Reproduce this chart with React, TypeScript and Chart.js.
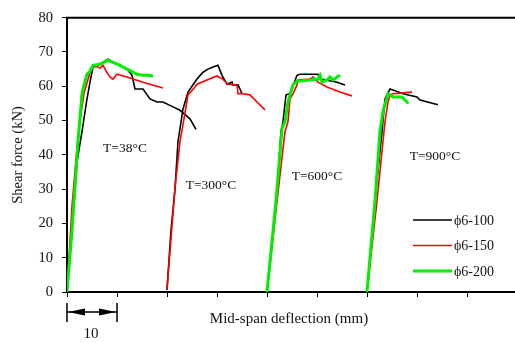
import React, { useEffect, useRef } from "react";
import { Chart, registerables } from "chart.js";

Chart.register(...registerables);

// Curves: [deflection (mm), shear force (kN)], each test group shifted by 20 mm on the axis
const s100_38 = [[0,0],[1,18],[2,38],[3,46.8],[4,56.3],[4.6,61.2],[5.2,65.6],[7.2,67],[8.2,67.9],[10,66.4],[12,65],[13,63.2],[13.6,59.2],[15.2,59.2],[16.6,56.3],[18,55.4],[19.2,55.4],[21.2,54],[22.6,53],[24.6,50.5],[25.8,47.4]];
const s150_38 = [[0,0],[0.4,10],[1,25],[2,42],[2.6,50],[3.4,58],[4.6,64],[5.2,65.6],[6,65.8],[6.6,65.3],[7.2,66.1],[8,64],[8.6,62.7],[9.2,62.1],[10,63.5],[12,62.7],[15.2,61.2],[19.2,59.5]];
const s200_38 = [[0,0],[1,18],[2.2,43.9],[3,57.8],[3.2,59.2],[4,63.5],[4.6,64.4],[5.2,66.1],[6.6,66.4],[8.2,67.6],[9.2,67],[10.6,66.1],[12,65],[14,63.5],[15.2,63.2],[16.2,63.2],[17.2,63]];

const s100_300 = [[20,0.6],[20.8,18],[21.6,30],[22.2,43.9],[23.2,53.4],[24.2,58.3],[26,62.1],[27.2,64.1],[28.2,65],[29.2,65.6],[30.2,66.1],[31,63.2],[32,60.6],[33,61.2],[33.2,60.4],[34.2,60.4],[34.6,59.2],[35,57.8]];
const s150_300 = [[20,0.9],[21.6,30.3],[22.6,43.9],[23.2,48.8],[24.2,57.5],[25.6,59.8],[26,60.6],[28,61.8],[30,63],[31.2,62],[32.2,60.6],[34,60.4],[34.2,57.8],[35.2,57.8],[36.6,57.5],[38,55.4],[39.6,53.1]];

const s100_600 = [[40,0],[42,28.6],[42.8,46.8],[43.2,49.7],[43.8,57.5],[44.6,57.8],[46,63.2],[46.6,63.5],[50.2,63.5],[50.6,62.1],[52,61.8],[54,61.2],[55.6,60.4]];
const s150_600 = [[40,0],[42.2,29],[43.6,46.8],[44.2,49.7],[44.6,56.3],[45.2,57.8],[46,60.4],[46.2,61.8],[48.6,62.1],[49.2,62.7],[50.2,61.2],[52,59.8],[54.6,58.3],[57,57.2]];
const s200_600 = [[40,0],[41.8,26.6],[43,47.7],[43.6,49.7],[44.2,55.4],[45.2,60.4],[46,61.5],[48.6,61.8],[50.2,62.1],[50.6,63.2],[51,61.2],[52,61.8],[52.6,62.7],[53.2,61.8],[54,62.7],[54.6,63.2]];

const s100_900 = [[60,0],[61.6,26.6],[63,46.8],[63.6,56.3],[64.6,59.2],[65.2,58.9],[67.2,57.8],[70,56.9],[70.6,56],[74.2,54.6]];
const s150_900 = [[60,0],[62,26.6],[63.6,49.7],[64.2,55.4],[64.6,57.5],[65.2,57.8],[69,58.3]];
const s200_900 = [[60,0],[61.6,26.6],[62.6,46.8],[63.2,52.6],[64.2,57.8],[65.2,56.9],[67,56.9],[68,55.4],[68.2,54.9]];

const seriesNames = ["ϕ6-100", "ϕ6-150", "ϕ6-200"];
const seriesColors = ["#000000", "#ff0000", "#00ee00"];
const seriesWidths = [1.6, 1.6, 3];
const yTicks = [0, 10, 20, 30, 40, 50, 60, 70, 80];
const tempLabels = ["T=38°C", "T=300°C", "T=600°C", "T=900°C"];
const tempLabelPos = [[11.6, 42], [28.8, 31], [50, 33.6], [73.6, 39.4]];
const scaleBarMm = 10;

const FONT = '"Liberation Serif", "Times New Roman", serif';

function join(groups: number[][][]) {
  const out: { x: number; y: number | null }[] = [];
  groups.forEach((g, i) => {
    if (i > 0) out.push({ x: g[0][0], y: null });
    g.forEach(([x, y]) => out.push({ x, y }));
  });
  return out;
}

const extras = {
  id: "extras",
  afterDraw(chart: any) {
    const { ctx, chartArea } = chart;
    const xs = chart.scales.x;
    const ys = chart.scales.y;
    ctx.save();
    // top border
    ctx.strokeStyle = "#000";
    ctx.lineWidth = 2;
    ctx.beginPath();
    ctx.moveTo(chartArea.left - 1, chartArea.top);
    ctx.lineTo(chartArea.right, chartArea.top);
    ctx.stroke();

    ctx.fillStyle = "#111";
    // axis titles
    ctx.font = `15px ${FONT}`;
    ctx.textAlign = "center";
    ctx.textBaseline = "middle";
    ctx.fillText("Mid-span deflection (mm)", 289, 319);
    ctx.save();
    ctx.translate(18, 155);
    ctx.rotate(-Math.PI / 2);
    ctx.font = `14.5px ${FONT}`;
    ctx.fillText("Shear force (kN)", 0, 0);
    ctx.restore();

    // temperature labels
    ctx.font = `13.5px ${FONT}`;
    tempLabels.forEach((t, i) => {
      ctx.fillText(t, xs.getPixelForValue(tempLabelPos[i][0]), ys.getPixelForValue(tempLabelPos[i][1]));
    });

    // legend
    ctx.textAlign = "left";
    ctx.font = `14px ${FONT}`;
    seriesNames.forEach((n, i) => {
      const y = 220 + i * 25.5;
      ctx.strokeStyle = seriesColors[i];
      ctx.lineWidth = seriesWidths[i];
      ctx.beginPath();
      ctx.moveTo(413, y);
      ctx.lineTo(452, y);
      ctx.stroke();
      ctx.fillStyle = "#111";
      ctx.fillText(n, 454, y + 1);
    });

    // scale bar
    const x0 = xs.getPixelForValue(0);
    const x1 = xs.getPixelForValue(scaleBarMm);
    const yb = 312;
    ctx.strokeStyle = "#000";
    ctx.fillStyle = "#000";
    ctx.lineWidth = 1.5;
    ctx.beginPath();
    ctx.moveTo(x0, 303); ctx.lineTo(x0, 322);
    ctx.moveTo(x1, 303); ctx.lineTo(x1, 322);
    ctx.moveTo(x0, yb); ctx.lineTo(x1, yb);
    ctx.stroke();
    ctx.beginPath();
    ctx.moveTo(x0 + 1, yb); ctx.lineTo(x0 + 18, yb - 3.5); ctx.lineTo(x0 + 18, yb + 3.5); ctx.closePath();
    ctx.fill();
    ctx.beginPath();
    ctx.moveTo(x1 - 1, yb); ctx.lineTo(x1 - 18, yb - 3.5); ctx.lineTo(x1 - 18, yb + 3.5); ctx.closePath();
    ctx.fill();
    ctx.fillStyle = "#111";
    ctx.textAlign = "center";
    ctx.font = `15px ${FONT}`;
    ctx.fillText(String(scaleBarMm), (x0 + x1) / 2 - 1, 334);
    ctx.restore();
  },
};

export default function App() {
  const ref = useRef<HTMLCanvasElement | null>(null);
  useEffect(() => {
    document.body.style.margin = "0";
    document.body.style.overflow = "hidden";
    const groups = [
      [s100_38, s100_300, s100_600, s100_900],
      [s150_38, s150_300, s150_600, s150_900],
      [s200_38, s200_600, s200_900],
    ];
    const chart = new Chart(ref.current as HTMLCanvasElement, {
      type: "line",
      data: {
        datasets: groups.map((g, i) => ({
          label: seriesNames[i],
          data: join(g),
          borderColor: seriesColors[i],
          borderWidth: seriesWidths[i],
          pointRadius: 0,
          tension: 0,
          fill: false,
          spanGaps: false,
          order: 3 - i,
        })),
      },
      options: {
        animation: false,
        responsive: false,
        events: [],
        layout: { padding: { left: 0, right: 0, top: 15, bottom: 0 } },
        plugins: { legend: { display: false }, tooltip: { enabled: false } },
        scales: {
          x: {
            type: "linear",
            min: 0,
            max: 89.6,
            afterFit: (s: any) => { s.height = 51; },
            ticks: { stepSize: 10, display: false },
            grid: { display: true, drawOnChartArea: false, drawTicks: true, tickLength: 5, color: "#000", lineWidth: 1 },
            border: { display: true, color: "#000", width: 2 },
          },
          y: {
            type: "linear",
            min: 0,
            max: 80,
            afterFit: (s: any) => { s.width = 67; },
            afterBuildTicks: (s: any) => { s.ticks = yTicks.map((v) => ({ value: v })); },
            ticks: { color: "#111", padding: 9, font: { family: FONT, size: 14.5 } },
            grid: { display: true, drawOnChartArea: false, drawTicks: true, tickLength: 5, color: "#000", lineWidth: 1 },
            border: { display: true, color: "#000", width: 2 },
          },
        },
      },
      plugins: [extras],
    });
    return () => chart.destroy();
  }, []);
  return (
    <div style={{ position: "absolute", left: 0, top: 0, width: 515, height: 343 }}>
      <canvas ref={ref} width={515} height={343} style={{ width: 515, height: 343 }} />
    </div>
  );
}
